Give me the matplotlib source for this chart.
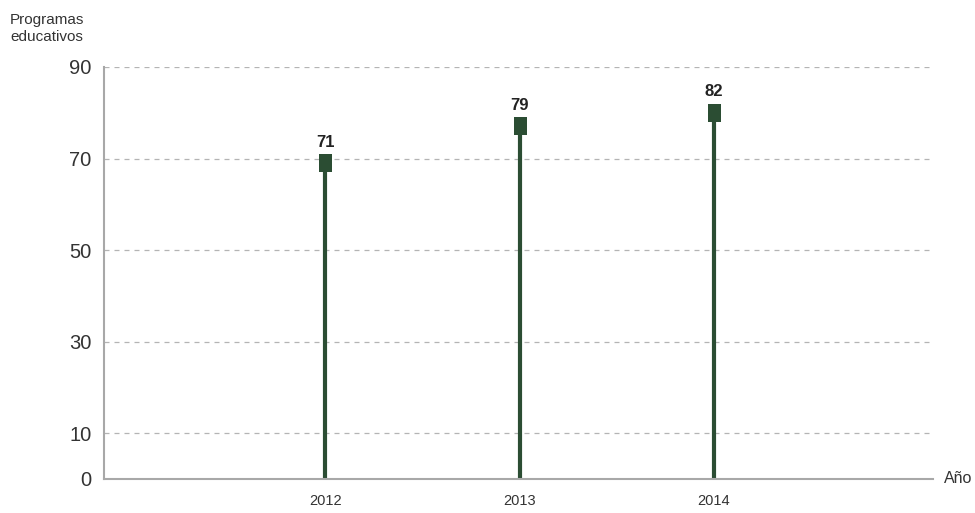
import matplotlib
matplotlib.use('Agg')
import matplotlib.pyplot as plt
from matplotlib.path import Path

plt.rcParams['font.family'] = ['Liberation Sans', 'DejaVu Sans']

years = [2012, 2013, 2014]
programas = [71, 79, 82]
yticks = [0, 10, 30, 50, 70, 90]

green = '#2b4d33'
grey = '#a8a8a8'
txt = '#333333'

fig = plt.figure(figsize=(9.75, 5.13), dpi=100)
ax = fig.add_axes([0.1067, 0.0663, 0.8503, 0.8031])

# rectangular cap hanging down from the value
cap = Path([(-0.36, 0), (0.36, 0), (0.36, -1), (-0.36, -1), (-0.36, 0)],
           [Path.MOVETO, Path.LINETO, Path.LINETO, Path.LINETO, Path.CLOSEPOLY])

for y in [10, 30, 50, 70, 90]:
    ax.axhline(y, color='#b4b4b4', lw=0.9, ls=(0, (4, 4)), zorder=0)

ax.vlines(years, 0, programas, color=green, lw=3.0, zorder=2)
ax.plot(years, programas, ls='none', marker=cap, markersize=26,
        color=green, markeredgewidth=0, zorder=3)
for x, v in zip(years, programas):
    ax.annotate(str(v), (x, v), xytext=(0, 3), textcoords='offset points',
                ha='center', va='bottom', fontsize=12, fontweight='bold',
                color='#222222')

ax.set_xlim(2010.86, 2015.13)
ax.set_ylim(0, 90)
ax.set_xticks(years)
ax.set_xticklabels([str(y) for y in years], fontsize=10.5, color=txt)
ax.set_yticks(yticks)
ax.set_yticklabels([str(y) for y in yticks], fontsize=14.5, color=txt)
ax.tick_params(axis='both', length=0)
ax.tick_params(axis='x', pad=11)
ax.tick_params(axis='y', pad=9)

for s in ['top', 'right']:
    ax.spines[s].set_visible(False)
for s in ['left', 'bottom']:
    ax.spines[s].set_color(grey)
    ax.spines[s].set_linewidth(1.5)

fig.text(0.0103, 0.975, 'Programas\neducativos', fontsize=11, color=txt,
         ha='left', va='top', linespacing=1.25)
fig.text(0.968, 0.0663, 'Año', fontsize=11.5, color=txt, ha='left', va='center')

fig.savefig('out.png', dpi=100)
